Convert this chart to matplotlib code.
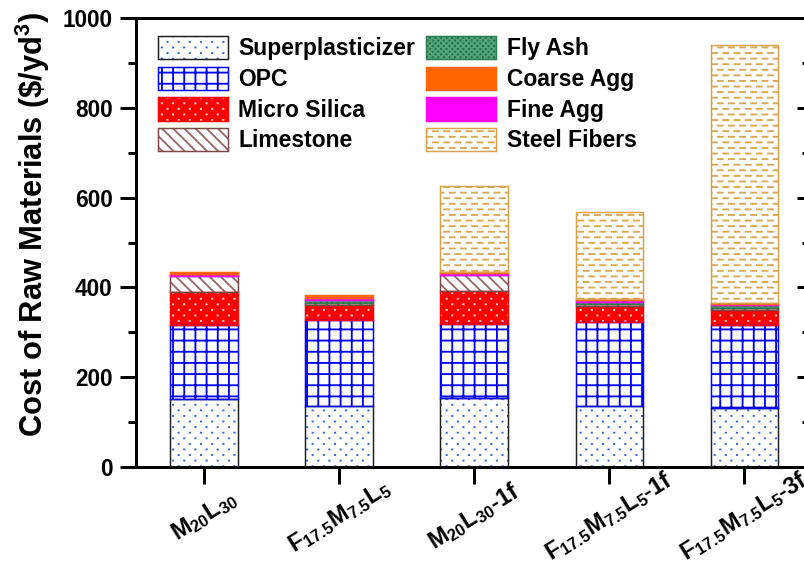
import warnings
import numpy as np
import matplotlib
matplotlib.use("Agg")
import matplotlib.pyplot as plt
import matplotlib.hatch as mhatch
import matplotlib.transforms as mtransforms
from matplotlib.patches import Patch
from matplotlib.ticker import MultipleLocator

# ---------------------------------------------------------------- data
mixes = [
    r"$\mathrm{M_{20}L_{30}}$",
    r"$\mathrm{F_{17.5}M_{7.5}L_{5}}$",
    r"$\mathrm{M_{20}L_{30}}$-1f",
    r"$\mathrm{F_{17.5}M_{7.5}L_{5}}$-1f",
    r"$\mathrm{F_{17.5}M_{7.5}L_{5}}$-3f",
]

superplasticizer = [152, 136, 154, 135, 132]
opc = [164, 191, 164, 189, 185]
micro_silica = [74, 34, 75, 34, 32]
limestone = [35, 4, 35, 4, 5]
fly_ash = [0, 7, 0, 6, 6]
fine_agg = [4, 4, 4, 4, 3]
coarse_agg = [5, 7, 2, 3, 3]
steel_fibers = [0, 0, 192, 193, 574]

y_ticks = [0, 200, 400, 600, 800, 1000]


# ------------------------------------------------- staggered-mark hatch
class StaggeredMarks(mhatch.HatchPatternBase):
    """'_' draws short dashes, ':' draws dots; rows sit half a step apart
    and every other row is shifted by half a column."""

    def __init__(self, hatch, density):
        n_dash = hatch.count("_")
        n_dot = hatch.count(":")
        if n_dash:
            self.cols, self.frac = n_dash * density, 0.45
        elif n_dot:
            self.cols, self.frac = n_dot * density, 0.02
        else:
            self.cols = 0
        if self.cols:
            self.rows = 2 * self.cols
            self.num_vertices = 2 * self.rows * (self.cols + 1)
        else:
            self.num_vertices = 0

    def set_vertices_and_codes(self, vertices, codes):
        step = 1.0 / self.cols
        half = 0.5 * self.frac * step
        k = 0
        for r in range(self.rows):
            y = (r + 0.5) * step / 2
            shift = 0.0 if r % 2 == 0 else step / 2
            for c in range(self.cols + 1):
                xc = c * step + shift
                vertices[k] = (xc - half, y)
                vertices[k + 1] = (xc + half, y)
                codes[k] = mhatch.Path.MOVETO
                codes[k + 1] = mhatch.Path.LINETO
                k += 2


mhatch._hatch_types.append(StaggeredMarks)
warnings.filterwarnings("ignore", message=".*hatch must consist.*")

# ---------------------------------------------------------------- style
plt.rcParams["font.family"] = ["Liberation Sans", "DejaVu Sans"]
plt.rcParams["font.weight"] = "bold"
plt.rcParams["mathtext.fontset"] = "custom"
plt.rcParams["mathtext.rm"] = "Liberation Sans:bold"
plt.rcParams["mathtext.it"] = "Liberation Sans:bold"
plt.rcParams["mathtext.bf"] = "Liberation Sans:bold"
plt.rcParams["hatch.linewidth"] = 1.0

segments = [
    ("Superplasticizer", superplasticizer,
     dict(face="white", hatch="::", hcol="#3A62D0", edge="#202020")),
    ("OPC", opc,
     dict(face="white", hatch="++", hcol="#0000FF", edge="#0000FF")),
    ("Micro Silica", micro_silica,
     dict(face="#FF0000", hatch="::", hcol="#FFD6D6", edge="#FF0000")),
    ("Limestone", limestone,
     dict(face="white", hatch="\\\\\\\\", hcol="#9A6868", edge="#7A4848")),
    ("Fly Ash", fly_ash,
     dict(face="#4FA67A", hatch="::::", hcol="#1E6E44", edge="#2E7D50")),
    ("Fine Agg", fine_agg,
     dict(face="#FF00FF", hatch=None, hcol="#FF00FF", edge="#FF00FF")),
    ("Coarse Agg", coarse_agg,
     dict(face="#FF6600", hatch=None, hcol="#FF6600", edge="#FF6600")),
    ("Steel Fibers", steel_fibers,
     dict(face="white", hatch="__", hcol="#DBA650", edge="#D6A24A")),
]
legend_order = ["Superplasticizer", "OPC", "Micro Silica", "Limestone",
                "Fly Ash", "Coarse Agg", "Fine Agg", "Steel Fibers"]

DPI = 134
fig = plt.figure(figsize=(804 / DPI, 573 / DPI), dpi=DPI)
ax = fig.add_axes([136 / 804, 1 - 467 / 573, 670.5 / 804, 449 / 573])

x = np.arange(len(mixes))
width = 0.5
bottom = np.zeros(len(mixes))
handles = {}
for name, vals, st in segments:
    vals = np.asarray(vals, dtype=float)
    keep = vals > 0
    ax.bar(x[keep], vals[keep], width, bottom=bottom[keep],
           color=st["face"], hatch=st["hatch"], edgecolor=st["hcol"],
           linewidth=0, zorder=2)
    ax.bar(x[keep], vals[keep], width, bottom=bottom[keep],
           fill=False, edgecolor=st["edge"], linewidth=0.8, zorder=3)
    bottom += vals
    handles[name] = (
        Patch(facecolor=st["face"], hatch=st["hatch"],
              edgecolor=st["hcol"], linewidth=0),
        Patch(fill=False, edgecolor=st["edge"], linewidth=0.8),
    )

ax.set_xlim(-0.504, 4.46)
ax.set_ylim(0, 1000)
ax.set_yticks(y_ticks)
ax.yaxis.set_minor_locator(MultipleLocator(100))
ax.set_xticks(x)
# rotated category labels, each centred a little below and left of its tick
ax.set_xticklabels(mixes, rotation=32, rotation_mode="anchor",
                   ha="center", va="center", fontsize=12.6)
shift_left = mtransforms.ScaledTranslation(-4 / DPI, 0, fig.dpi_scale_trans)
for lbl in ax.get_xticklabels():
    lbl.set_transform(lbl.get_transform() + shift_left)

for s in ax.spines.values():
    s.set_linewidth(1.6)
ax.tick_params(axis="y", which="major", direction="out", length=8.6,
               width=1.6, labelsize=12.2, pad=4)
ax.tick_params(axis="y", which="minor", direction="out", length=4.3,
               width=1.6)
ax.tick_params(axis="x", which="major", direction="out", length=9,
               width=1.6, pad=17.5)
ax.tick_params(axis="x", which="minor", bottom=False)
ax.tick_params(top=False, right=False)

ax.set_ylabel("Cost of Raw Materials (\\$/yd$^{3}$)", fontsize=16.6,
              fontweight="bold")
ax.yaxis.set_label_coords(-0.125, 0.541)

# inward ticks on the right-hand side
ax_r = ax.twinx()
ax_r.set_ylim(0, 1000)
ax_r.set_yticks(y_ticks)
ax_r.yaxis.set_minor_locator(MultipleLocator(100))
ax_r.tick_params(axis="y", which="major", direction="in", length=5.4,
                 width=1.6, labelright=False)
ax_r.tick_params(axis="y", which="minor", direction="in", length=2.7,
                 width=1.6)
for s in ax_r.spines.values():
    s.set_visible(False)

leg = ax.legend(
    [handles[n] for n in legend_order], legend_order,
    ncol=2, loc="upper left",
    bbox_to_anchor=(158 / 804, 1 - 36 / 573), bbox_transform=fig.transFigure,
    frameon=False, borderpad=0, borderaxespad=0,
    handlelength=3.05, handleheight=1.2, handletextpad=0.45,
    labelspacing=0.27, columnspacing=0.5,
    prop={"size": 12.3, "weight": "bold"},
)

fig.savefig("out.png", dpi=DPI)
